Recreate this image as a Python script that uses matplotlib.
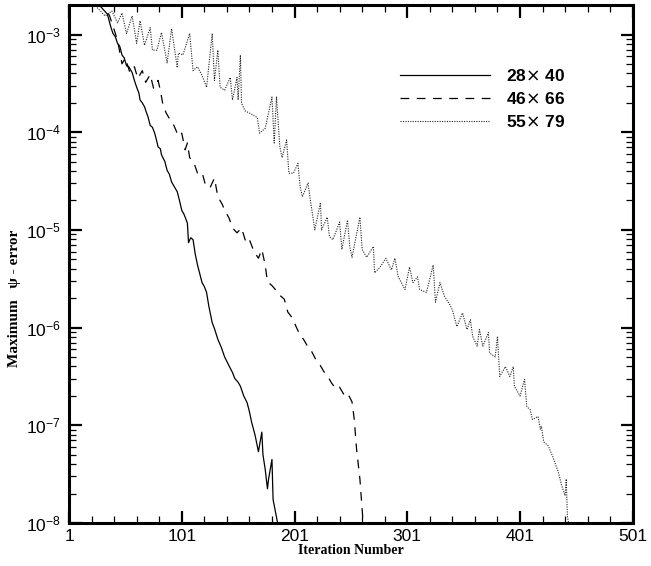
import numpy as np
import matplotlib
matplotlib.use("Agg")
import matplotlib.pyplot as plt
from matplotlib.ticker import FixedLocator, LogLocator, NullFormatter

plt.rcParams['font.family'] = ['Liberation Sans', 'DejaVu Sans']

# iteration numbers and log10(max psi error)
it_28x40 = [1, 8, 14, 20, 24, 28, 31, 35, 38, 40, 42, 44, 46, 48, 50, 52, 54, 57, 59,
            61, 63, 64, 66, 68, 70, 71, 73, 75, 77, 79, 80, 82, 83, 86, 88, 90, 92, 94,
            97, 99, 101, 103, 106, 107, 109, 111, 113, 115, 117, 119, 121, 123, 125,
            128, 130, 133, 136, 139, 142, 146, 148, 151, 153, 156, 159, 161, 163, 166,
            169, 172, 173, 175, 177, 178, 181, 182, 184, 185, 187]
log_28x40 = [-2.05, -2.25, -2.40, -2.50, -2.62, -2.70, -2.74, -2.79, -2.92, -2.99, -3.02,
             -3.09, -3.12, -3.21, -3.24, -3.32, -3.33, -3.39, -3.47, -3.54, -3.60, -3.67,
             -3.70, -3.74, -3.81, -3.84, -3.93, -3.95, -4.01, -4.10, -4.15, -4.17, -4.23,
             -4.30, -4.39, -4.43, -4.51, -4.55, -4.61, -4.70, -4.80, -4.84, -4.93, -5.13,
             -5.08, -5.10, -5.25, -5.36, -5.45, -5.54, -5.58, -5.64, -5.78, -5.95, -6.01,
             -6.12, -6.20, -6.30, -6.37, -6.46, -6.52, -6.56, -6.60, -6.70, -6.77, -6.86,
             -6.97, -7.10, -7.27, -7.07, -7.30, -7.45, -7.65, -7.55, -7.35, -7.76, -7.88,
             -7.94, -8.06]

it_46x66 = [1, 10, 20, 28, 33, 37, 41, 44, 48, 51, 55, 59, 62, 66, 69, 73, 76, 80, 82,
            84, 87, 90, 94, 98, 101, 104, 106, 108, 112, 115, 119, 122, 126, 130, 133,
            137, 139, 143, 146, 150, 154, 158, 161, 165, 169, 172, 175, 177, 181, 184,
            188, 192, 195, 199, 202, 206, 209, 213, 216, 220, 224, 227, 231, 234, 238,
            241, 245, 248, 252, 254, 256, 259, 262]
log_46x66 = [-2.10, -2.30, -2.48, -2.62, -2.72, -2.81, -2.95, -3.06, -3.30, -3.24, -3.39,
             -3.33, -3.45, -3.37, -3.49, -3.41, -3.55, -3.47, -3.57, -3.70, -3.80, -3.86,
             -3.93, -4.04, -4.01, -4.18, -4.11, -4.26, -4.32, -4.42, -4.41, -4.54, -4.57,
             -4.47, -4.66, -4.74, -4.80, -4.88, -4.98, -5.03, -4.98, -5.13, -5.10, -5.22,
             -5.29, -5.20, -5.36, -5.53, -5.57, -5.61, -5.67, -5.71, -5.84, -5.90, -5.98,
             -6.08, -6.12, -6.20, -6.24, -6.33, -6.39, -6.45, -6.51, -6.57, -6.63, -6.61,
             -6.69, -6.67, -6.76, -6.94, -7.24, -7.55, -8.02]

it_55x79 = [1, 8, 15, 20, 24, 33, 39, 44, 48, 52, 57, 61, 64, 68, 73, 75, 79, 83, 88, 92,
            97, 98, 102, 108, 111, 115, 119, 123, 128, 130, 133, 135, 139, 144, 146, 150,
            151, 153, 154, 157, 162, 168, 170, 175, 181, 183, 185, 188, 190, 194, 196,
            200, 204, 206, 208, 213, 215, 219, 224, 225, 230, 232, 235, 241, 243, 248,
            250, 252, 259, 261, 265, 271, 272, 277, 282, 287, 290, 293, 299, 303, 306,
            310, 312, 318, 324, 326, 330, 334, 339, 341, 345, 350, 354, 357, 359, 363,
            365, 368, 373, 374, 379, 381, 383, 388, 392, 395, 396, 401, 405, 407, 410,
            412, 417, 419, 420, 422, 426, 430, 435, 438, 441, 442, 443, 445]
log_55x79 = [-2.00, -2.15, -2.35, -2.55, -2.70, -2.81, -2.76, -2.88, -2.78, -2.99, -2.81,
             -3.09, -2.86, -3.11, -2.93, -3.16, -3.16, -2.98, -3.29, -2.94, -3.34, -3.19,
             -3.21, -2.99, -3.37, -3.33, -3.42, -3.54, -2.99, -3.47, -3.16, -3.54, -3.57,
             -3.44, -3.67, -3.44, -3.67, -3.21, -3.70, -3.78, -3.81, -3.85, -4.01, -3.96,
             -3.64, -4.11, -3.64, -4.15, -4.26, -4.08, -4.42, -4.42, -4.32, -4.56, -4.66,
             -4.52, -4.69, -5.00, -4.72, -5.00, -4.87, -5.07, -5.10, -4.92, -5.20, -4.90,
             -5.17, -5.28, -4.87, -5.20, -5.28, -5.17, -5.44, -5.38, -5.29, -5.41, -5.29,
             -5.48, -5.61, -5.38, -5.54, -5.48, -5.61, -5.64, -5.36, -5.74, -5.54, -5.68,
             -5.77, -5.82, -5.99, -5.85, -6.02, -5.92, -6.09, -6.19, -6.02, -6.19, -6.05,
             -6.26, -6.30, -6.09, -6.50, -6.40, -6.50, -6.40, -6.60, -6.70, -6.53, -6.81,
             -6.84, -6.94, -6.91, -7.04, -7.01, -7.17, -7.21, -7.32, -7.48, -7.62, -7.72,
             -7.55, -7.93, -8.06]

labels = ["28$\\times$ 40", "46$\\times$ 66", "55$\\times$ 79"]
x_ticks = [1, 101, 201, 301, 401, 501]

fig = plt.figure(figsize=(6.51, 5.66), dpi=100)
ax = fig.add_axes([0.106, 0.076, 0.866, 0.915])

ax.semilogy(it_28x40, np.power(10.0, log_28x40), color='black', lw=0.9,
            label=labels[0])
ax.semilogy(it_46x66, np.power(10.0, log_46x66), color='black', lw=0.9,
            dashes=(7, 6), label=labels[1])
ax.semilogy(it_55x79, np.power(10.0, log_55x79), color='#222222', lw=0.8,
            dashes=(1, 1.2), label=labels[2])

ax.set_xlim(1, 501)
ax.set_ylim(1e-8, 2e-3)
ax.xaxis.set_major_locator(FixedLocator(x_ticks))
ax.xaxis.set_minor_locator(FixedLocator(np.arange(21, 501, 20)))
ax.yaxis.set_minor_locator(LogLocator(base=10, subs=np.arange(2, 10)))
ax.yaxis.set_minor_formatter(NullFormatter())

for s in ax.spines.values():
    s.set_linewidth(2.2)
ax.tick_params(which='both', direction='in', top=True, right=True)
ax.tick_params(which='major', length=9, width=1.6, labelsize=12.5, pad=6)
ax.tick_params(which='minor', length=5, width=0.9)
ax.tick_params(axis='x', which='major', pad=4)

ax.set_xlabel("Iteration Number", family='Liberation Serif', fontweight='bold',
              fontsize=10, labelpad=0)
ax.set_ylabel("Maximum   \u03c8 - error", family='Liberation Serif',
              fontweight='bold', fontsize=11)
ax.yaxis.set_label_coords(-0.085, 0.434)

leg = ax.legend(loc='upper left', bbox_to_anchor=(0.587, 0.879), frameon=False,
                handlelength=5.2, handletextpad=0.9, borderpad=0, borderaxespad=0,
                labelspacing=0.42, prop={'family': 'Liberation Sans',
                                         'weight': 'bold', 'size': 12.5})

fig.savefig("out.png", dpi=100)
